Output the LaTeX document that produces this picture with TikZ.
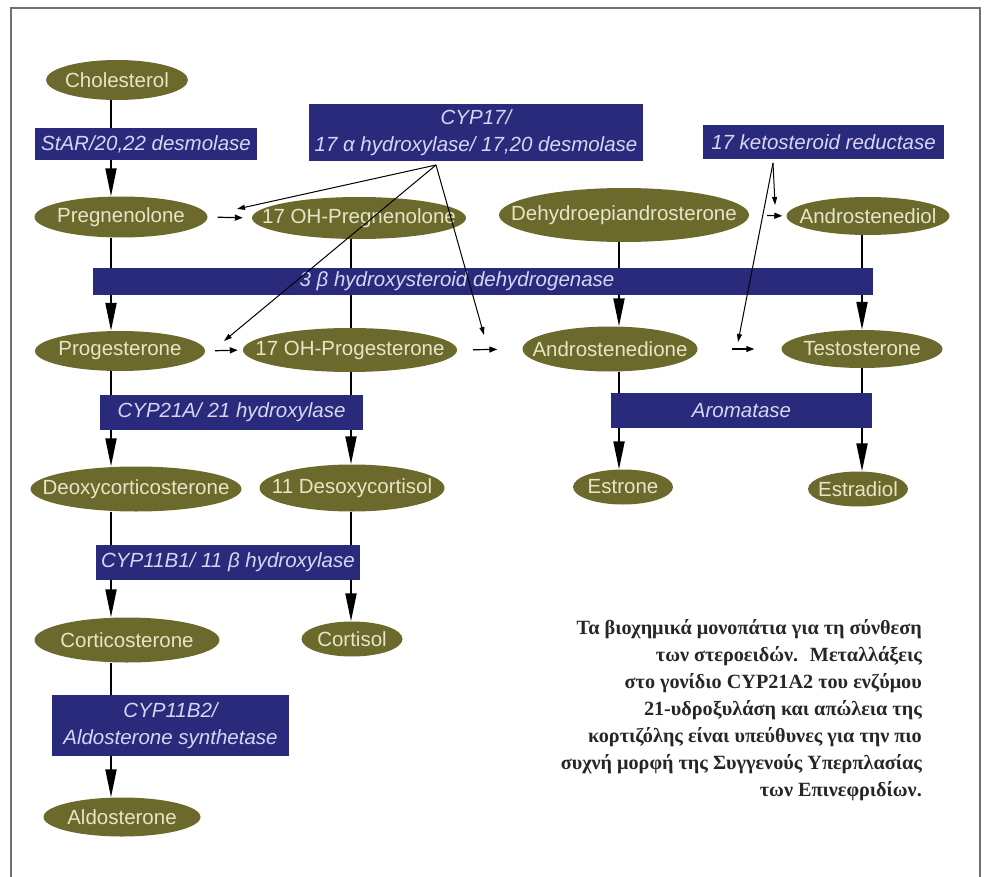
\documentclass[tikz,border=0pt]{standalone}
\usepackage{fontspec}
\setmainfont{Liberation Sans}
\newfontfamily\capfont{Liberation Serif}
\usetikzlibrary{shapes.geometric,arrows.meta,backgrounds}

\definecolor{olivefill}{HTML}{6B6A2C}
\definecolor{olivetext}{HTML}{E6E6C6}
\definecolor{navyfill}{HTML}{2A2A7C}
\definecolor{navytext}{HTML}{D6D6F2}
\definecolor{framegray}{HTML}{707070}

\newcommand{\nm}[1]{\makebox[0pt]{#1}}

\tikzset{
  ster/.style={ellipse, fill=olivefill, text=olivetext, inner sep=0pt, font=\fontsize{20.5}{24}\selectfont},
  enz/.style={rectangle, fill=navyfill, text=navytext, inner sep=0pt, align=center, font=\fontsize{20.5}{27}\selectfont\itshape},
  flow/.style={line width=2pt, -{Triangle[length=28pt,width=11pt]}},
  link/.style={line width=2pt},
  hop/.style={line width=1.2pt, -{Triangle[length=8pt,width=6pt]}},
  cat/.style={line width=1pt, -{Triangle[length=8pt,width=5pt]}}
}

\begin{document}
\begin{tikzpicture}[x=1pt,y=-1pt]
\useasboundingbox (0,0) rectangle (984,877);
\draw[framegray, line width=2pt] (11,877) -- (11,8) -- (980,8) -- (980,877);

% steroids and enzymes
\node[ster, minimum width=142pt, minimum height=40pt] (chol) at (117,80) {\nm{Cholesterol}};
\node[enz, minimum width=222pt, minimum height=32pt] (star) at (146,144) {StAR/20,22 desmolase};
\node[ster, minimum width=173pt, minimum height=41pt] (preg) at (121,217) {\nm{Pregnenolone}};
\node[ster, minimum width=214pt, minimum height=42pt] (ohpreg) at (359,218) {\nm{17 OH-Pregnenolone}};
\node[enz, minimum width=334pt, minimum height=57pt] (cyp17) at (476,132.5) {CYP17/\\17 α hydroxylase/ 17,20 desmolase};
\node[ster, minimum width=250pt, minimum height=54pt] (dhea) at (624,215) {\nm{Dehydroepiandrosterone}};
\node[ster, minimum width=163pt, minimum height=38pt] (adiol) at (868,216) {\nm{Androstenediol}};
\node[enz, minimum width=241pt, minimum height=34pt] (ketored) at (823.5,142) {17 ketosteroid reductase};
\node[enz, minimum width=780pt, minimum height=27pt,
  label={[enz, fill=none, xshift=-26pt]center:3 β hydroxysteroid dehydrogenase}] (hsd) at (483,281.5) {};
\node[ster, minimum width=170pt, minimum height=40pt] (prog) at (120,351) {\nm{Progesterone}};
\node[ster, minimum width=214pt, minimum height=44pt] (ohprog) at (350,350) {\nm{17 OH-Progesterone}};
\node[ster, minimum width=175pt, minimum height=45pt] (adione) at (610,349) {\nm{Androstenedione}};
\node[ster, minimum width=161pt, minimum height=38pt] (testo) at (862,349) {\nm{Testosterone}};
\node[enz, minimum width=263pt, minimum height=35pt] (cyp21) at (231.5,412.5) {CYP21A/ 21 hydroxylase};
\node[enz, minimum width=261pt, minimum height=35pt] (arom) at (741.5,410.5) {Aromatase};
\node[ster, minimum width=211pt, minimum height=45pt] (doc) at (136,489) {\nm{Deoxycorticosterone}};
\node[ster, minimum width=185pt, minimum height=47pt] (desoxy) at (352,488) {\nm{11 Desoxycortisol}};
\node[ster, minimum width=100pt, minimum height=35pt] (estrone) at (623,487) {\nm{Estrone}};
\node[ster, minimum width=100pt, minimum height=35pt] (estradiol) at (858,489) {\nm{Estradiol}};
\node[enz, minimum width=264pt, minimum height=35pt] (cyp11bi) at (228,562.5) {CYP11B1/ 11 β hydroxylase};
\node[ster, minimum width=185pt, minimum height=45pt] (cortico) at (127,640) {\nm{Corticosterone}};
\node[ster, minimum width=101pt, minimum height=35pt] (cortisol) at (352,639) {\nm{Cortisol}};
\node[enz, minimum width=237pt, minimum height=61pt] (cyp11bii) at (170.5,725.5) {CYP11B2/\\Aldosterone synthetase};
\node[ster, minimum width=157pt, minimum height=39pt] (aldo) at (122,817) {\nm{Aldosterone}};

% columns
\coordinate (colA) at (111,0);
\coordinate (colB) at (351,0);
\coordinate (colC) at (619,0);
\coordinate (colD) at (862,0);

\begin{scope}[on background layer]
\draw[flow] (chol.south -| colA) -- (preg.north -| colA);
\draw[flow] (preg.south -| colA) -- (prog.north -| colA);
\draw[link] (ohpreg.south -| colB) -- (ohprog.north -| colB);
\draw[flow] (dhea.south -| colC) -- (adione.north -| colC);
\draw[flow] (adiol.south -| colD) -- (testo.north -| colD);
\draw[flow] (prog.south -| colA) -- (doc.north -| colA);
\draw[flow] (ohprog.south -| colB) -- (desoxy.north -| colB);
\draw[flow] (adione.south -| colC) -- (estrone.north -| colC);
\draw[flow] (testo.south -| colD) -- (estradiol.north -| colD);
\draw[flow] (doc.south -| colA) -- (cortico.north -| colA);
\draw[flow] (desoxy.south -| colB) -- (cortisol.north -| colB);
\draw[flow] (cortico.south -| colA) -- (aldo.north -| colA);
\end{scope}

% side reactions
\draw[hop, shorten <=10pt, shorten >=9pt] (preg.east) -- (ohpreg.west);
\draw[hop, shorten <=10pt, shorten >=5pt] (prog.east) -- (ohprog.west);
\draw[hop, shorten <=16pt, shorten >=25pt] (ohprog.east) -- (adione.west);
\draw[hop, shorten <=34pt, shorten >=27pt] (adione.east) -- (testo.west);
\draw[hop, shorten <=18pt, shorten >=4pt] (dhea.east) -- (adiol.west);

\coordinate (c17tip) at (436,165);
\coordinate (ktip) at (773,163);
\coordinate (gapPreg) at (237,209);
\coordinate (gapProg) at (224,341);
\coordinate (gapAndro) at (484,335);
\coordinate (gapDiol) at (775,205);
\coordinate (gapTesto) at (738,342);
\draw[cat] (c17tip) -- (gapPreg);
\draw[cat] (c17tip) -- (gapProg);
\draw[cat] (c17tip) -- (gapAndro);
\draw[cat] (ktip) -- (gapDiol);
\draw[cat] (ktip) -- (gapTesto);

% caption
\node[anchor=north east, align=right, inner sep=0pt, text=black!85,
  font=\capfont\bfseries\fontsize{20.2}{27}\selectfont] (caption) at (922,619)
  {Τα βιοχημικά μονοπάτια για τη σύνθεση\\
   των στεροειδών.~ Μεταλλάξεις\\
   στο γονίδιο CYP21A2 του ενζύμου\\
   21-υδροξυλάση και απώλεια της\\
   κορτιζόλης είναι υπεύθυνες για την πιο\\
   συχνή μορφή της Συγγενούς Υπερπλασίας\\
   των Επινεφριδίων.};
\end{tikzpicture}
\end{document}
